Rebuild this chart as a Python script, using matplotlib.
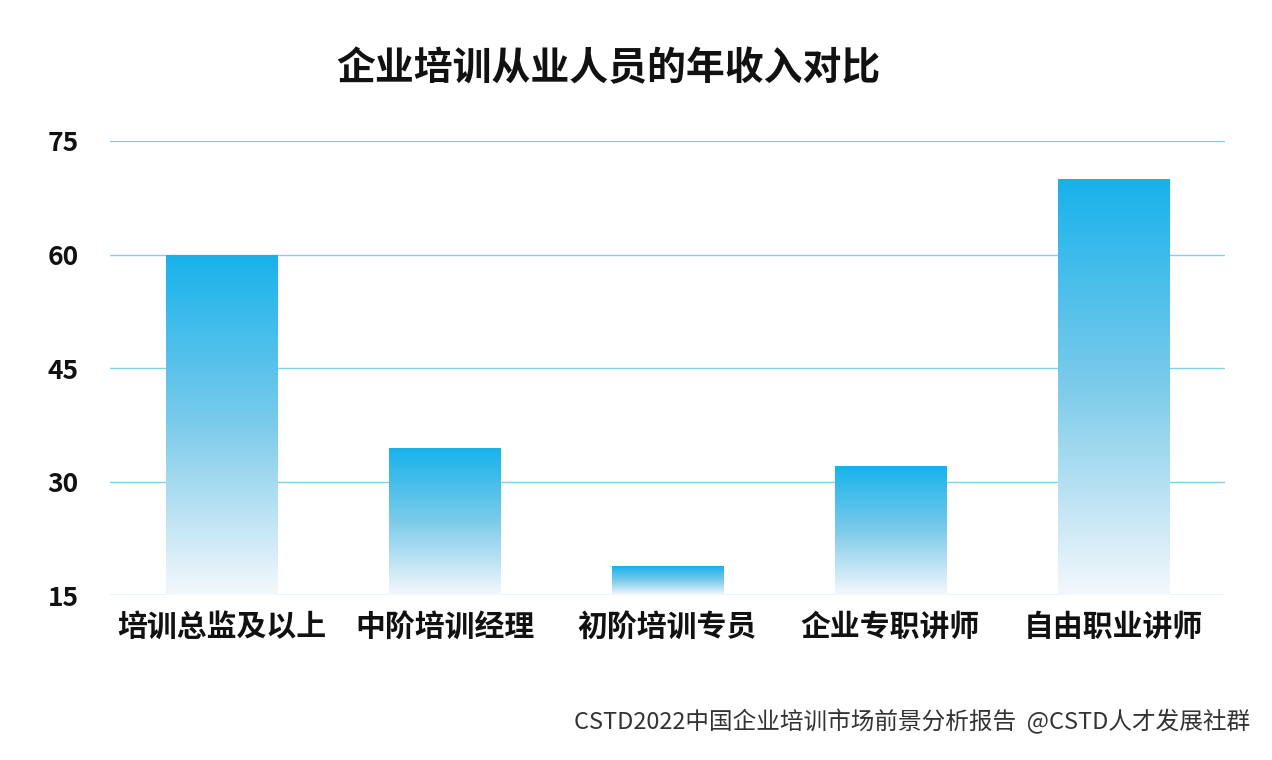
import matplotlib
matplotlib.use("Agg")
import matplotlib.pyplot as plt
import numpy as np
from matplotlib.colors import LinearSegmentedColormap
from matplotlib.patches import Rectangle

plt.rcParams['font.family'] = ['Noto Sans CJK SC', 'DejaVu Sans']

categories = ["培训总监及以上", "中阶培训经理", "初阶培训专员", "企业专职讲师", "自由职业讲师"]
values = [60, 34.4, 18.8, 32, 70]
yticks = [15, 30, 45, 60, 75]

fig = plt.figure(figsize=(12.72, 7.6), dpi=100)
fig.patch.set_facecolor("white")
ax = fig.add_axes([0.0865, 0.217, 0.8765, 0.5975])
for y in yticks:
    ax.axhline(y, color="#7fd0ea", lw=1, zorder=0)
cmap = LinearSegmentedColormap.from_list("g", ["#f4f8fc", "#7ccbea", "#17b2ec"])
grad = np.linspace(0, 1, 256).reshape(-1, 1)
w = 0.5
for i, v in enumerate(values):
    rect = Rectangle((i - w/2, 15), w, v - 15, facecolor="none", edgecolor="none")
    ax.add_patch(rect)
    im = ax.imshow(grad, cmap=cmap, origin="lower", aspect="auto",
                   extent=(i - w/2, i + w/2, 15, v), zorder=2)
    im.set_clip_path(rect)
ax.set_xlim(-0.5, 4.5)
ax.set_ylim(15, 75)
for s in ax.spines.values():
    s.set_visible(False)
ax.set_yticks(yticks)
ax.set_yticklabels([str(t) for t in yticks], fontsize=19, fontweight="bold", color="#111111")
ax.set_xticks(range(len(categories)))
ax.set_xticklabels(categories, fontsize=21.5, fontweight="bold", color="#111111")
ax.tick_params(length=0, axis="y", pad=45)
ax.tick_params(length=0, axis="x", pad=12)
for lbl in ax.get_yticklabels():
    lbl.set_horizontalalignment("left")
fig.text(0.478, 0.91, "企业培训从业人员的年收入对比", fontsize=28, fontweight="bold",
         ha="center", va="center", color="#111111")
fig.text(0.983, 0.05, "CSTD2022中国企业培训市场前景分析报告  @CSTD人才发展社群", fontsize=17,
         ha="right", va="center", color="#333333")
fig.savefig("out.png", dpi=100, facecolor="white")
